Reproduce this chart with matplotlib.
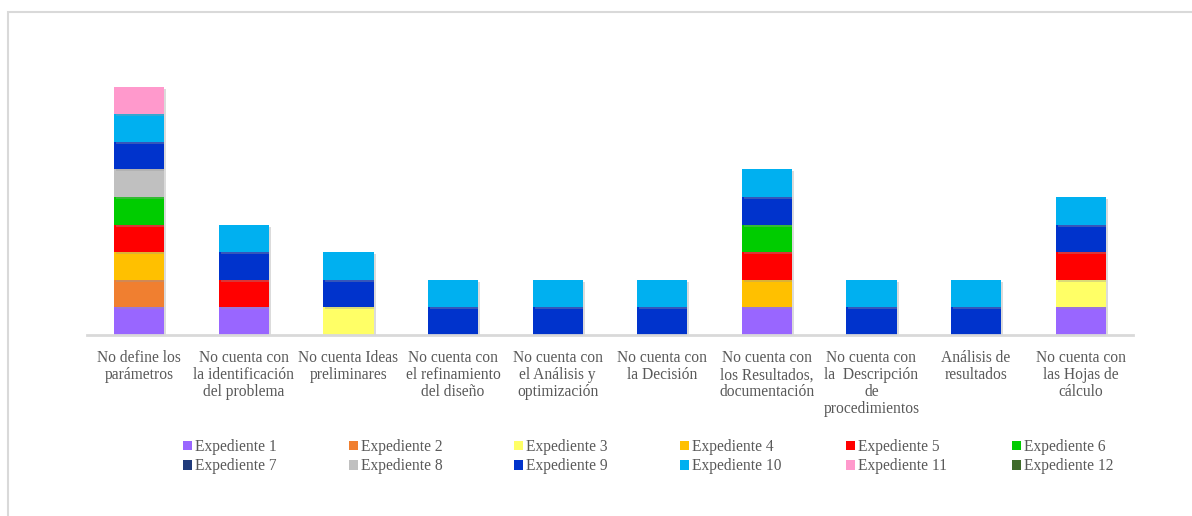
import matplotlib
matplotlib.use("Agg")
import matplotlib.pyplot as plt
import matplotlib.patheffects as pe
from matplotlib.patches import Rectangle, Patch
import numpy as np

categories = [
    "No define los\nparámetros",
    "No cuenta con\nla identificación\ndel problema",
    "No cuenta Ideas\npreliminares",
    "No cuenta con\nel refinamiento\ndel diseño",
    "No cuenta con\nel Análisis y\noptimización",
    "No cuenta con\nla Decisión",
    "No cuenta con\nlos Resultados,\ndocumentación",
    "No cuenta con\nla  Descripción\nde\nprocedimientos",
    "Análisis de\nresultados",
    "No cuenta con\nlas Hojas de\ncálculo",
]

series_names = [f"Expediente {i}" for i in range(1, 13)]
series_colors = [
    "#9966FF", "#F07F30", "#FFFF66", "#FFC000", "#FF0000", "#00CC00",
    "#1F3A7A", "#C0C0C0", "#0033CC", "#00B0F0", "#FF99CC", "#3F6B2A",
]

# one row per expediente, one value per category
exp1 = [1, 1, 0, 0, 0, 0, 1, 0, 0, 1]
exp2 = [1, 0, 0, 0, 0, 0, 0, 0, 0, 0]
exp3 = [0, 0, 1, 0, 0, 0, 0, 0, 0, 1]
exp4 = [1, 0, 0, 0, 0, 0, 1, 0, 0, 0]
exp5 = [1, 1, 0, 0, 0, 0, 1, 0, 0, 1]
exp6 = [1, 0, 0, 0, 0, 0, 1, 0, 0, 0]
exp7 = [0, 0, 0, 0, 0, 0, 0, 0, 0, 0]
exp8 = [1, 0, 0, 0, 0, 0, 0, 0, 0, 0]
exp9 = [1, 1, 1, 1, 1, 1, 1, 1, 1, 1]
exp10 = [1, 1, 1, 1, 1, 1, 1, 1, 1, 1]
exp11 = [1, 0, 0, 0, 0, 0, 0, 0, 0, 0]
exp12 = [0, 0, 0, 0, 0, 0, 0, 0, 0, 0]
series = [exp1, exp2, exp3, exp4, exp5, exp6, exp7, exp8, exp9, exp10, exp11, exp12]

GRAY = "#595959"
FONT = "Liberation Serif"
FS = 11.2
plt.rcParams["font.family"] = [FONT, "DejaVu Serif"]

W, H = 1192, 516
fig = plt.figure(figsize=(W / 100, H / 100), dpi=100)
ax = fig.add_axes([87 / W, 1 - 335 / H, (1133 - 87) / W, 276 / H])

# chart frame
fig.patches.append(Rectangle((8 / W, -0.1), 1.2, 1 - 12 / H + 0.1, transform=fig.transFigure,
                             fill=False, edgecolor="#d9d9d9", linewidth=1.5))

x = np.arange(len(categories))
bottom = np.zeros(len(categories))
shadow = [pe.SimplePatchShadow(offset=(1.5, -1.5), shadow_rgbFace="#999999", alpha=0.35), pe.Normal()]
for name, vals, col in zip(series_names, series, series_colors):
    v = np.array(vals, dtype=float)
    bars = ax.bar(x, v, 0.48, bottom=bottom, color=col, linewidth=0)
    for b, val in zip(bars, v):
        if val > 0:
            b.set_path_effects(shadow)
    bottom += v

ax.set_xlim(-0.5, len(categories) - 0.5)
ax.set_ylim(0, 10)
ax.set_yticks([])
for s in ["top", "left", "right"]:
    ax.spines[s].set_visible(False)
ax.spines["bottom"].set_color("#d9d9d9")
ax.spines["bottom"].set_linewidth(2)
ax.set_xticks(x)
ax.set_xticklabels(categories, fontsize=FS, color=GRAY, linespacing=1.08, family=FONT)
ax.tick_params(axis="x", length=0, pad=11)

# legend: 6 fixed-width columns, two rows (1-6 on top, 7-12 below)
handles = [Patch(facecolor=c, linewidth=0) for c in series_colors]
col_x = [183, 349, 514, 680, 846, 1012]
for j, cx in enumerate(col_x):
    leg = fig.legend([handles[j], handles[j + 6]], [series_names[j], series_names[j + 6]],
                     loc="upper left", bbox_to_anchor=(cx / W, 1 - 439 / H),
                     frameon=False, prop={"family": FONT, "size": FS},
                     handlelength=0.55, handleheight=0.55, handletextpad=0.2,
                     labelspacing=0.22, borderaxespad=0, borderpad=0)
    for t in leg.get_texts():
        t.set_color(GRAY)

fig.savefig("out.png", dpi=100)
